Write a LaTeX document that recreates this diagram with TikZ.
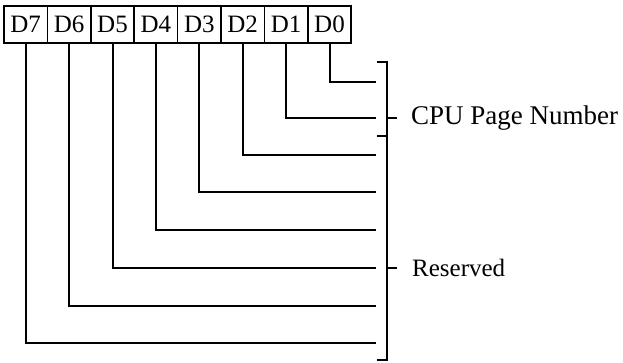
\documentclass[tikz,border=0pt]{standalone}
\usepackage{fontspec}
\setmainfont{Liberation Serif}
\begin{document}
\begin{tikzpicture}[x=1pt,y=-1pt,
  bitbox/.style={draw,line width=1.5pt,minimum width=43.4pt,minimum height=37pt,inner sep=0pt,font=\fontsize{25}{25}\selectfont},
  wire/.style={line width=2pt},
  lbl/.style={anchor=west,inner sep=0pt,font=\fontsize{27}{27}\selectfont}]
\useasboundingbox (0,0) rectangle (623,362);
% bit boxes
\foreach \i/\n in {0/7,1/6,2/5,3/4,4/3,5/2,6/1,7/0}{
  \node[bitbox] (d\n) at ({4+21.7+43.4*\i},24.5) {D\n};
}
% line end coordinates
\foreach \n/\y in {0/82,1/118,2/155,3/192,4/230,5/268,6/306,7/343}{
  \coordinate (e\n) at (376,\y);
  \draw[wire] (d\n.south) |- (e\n);
}
% bracket
\coordinate (bt) at (387,62);
\coordinate (bm) at (387,136);
\coordinate (bb) at (387,360);
\draw[wire] (377,62) -- (bt) -- (bb) -- (377,360);
\draw[wire] (377,136) -- (bm);
\coordinate (t1) at (397,118);
\coordinate (t2) at (397,268);
\draw[wire] (387,118) -- (t1);
\draw[wire] (387,268) -- (t2);
\node[lbl] (cpu) at (411,118) {CPU Page Number};
\node[lbl,font=\fontsize{25}{25}\selectfont] (res) at (412,268) {Reserved};
\end{tikzpicture}
\end{document}
